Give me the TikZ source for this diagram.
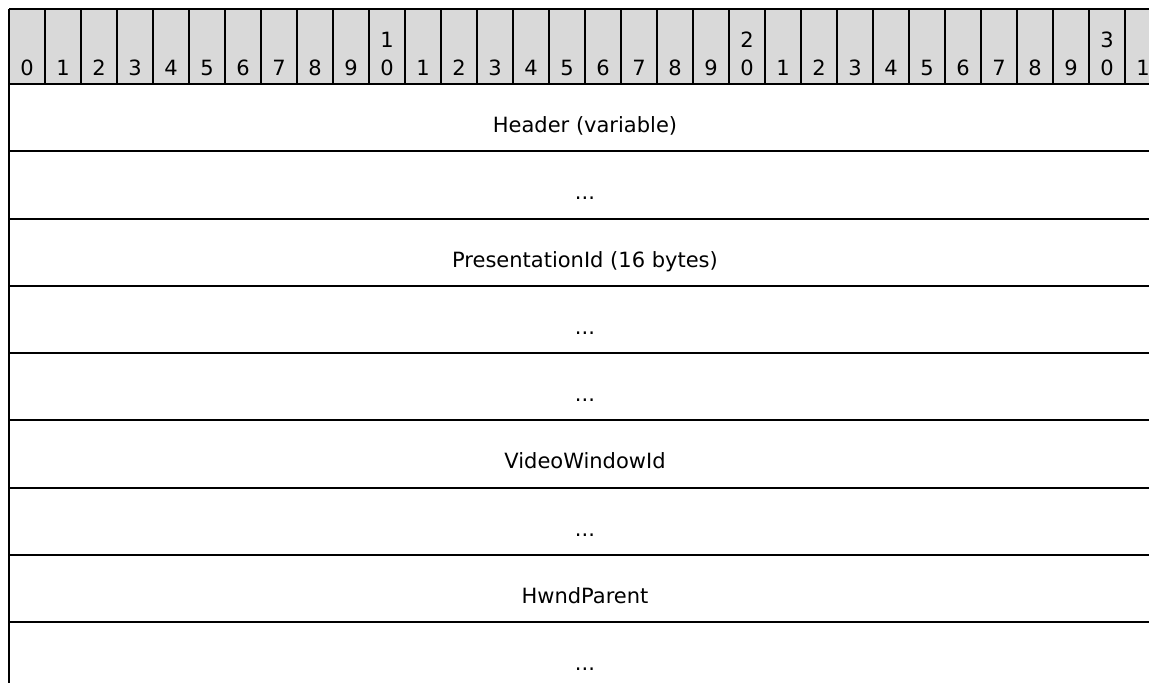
\documentclass[tikz,border=0pt]{standalone}
\usepackage{fontspec}
\setmainfont{DejaVu Sans}
\usetikzlibrary{positioning}
\definecolor{headgray}{RGB}{217,217,217}
\newcommand\more{...}

\begin{document}
\begin{tikzpicture}[x=1pt,y=-1pt,
  rowtext/.style={anchor=base,inner sep=0pt,font=\fontsize{21}{25}\selectfont},
  bitnum/.style={anchor=base,inner sep=0pt,font=\fontsize{21}{25}\selectfont},
  rule/.style={line width=2pt}]

%---------------------------------------
% Layout
%---------------------------------------
\def\Left{9}     % left edge of the table
\def\Cell{36}    % width of one bit
\def\Top{9}      % top of the header
\def\Head{84}    % bottom of the header
\def\Row{67.25}  % height of one row
\def\Mid{585}    % centre of the table

\useasboundingbox (0,0) rectangle (1149,683);
\clip (0,0) rectangle (1149,683);

%====================================================
% Header: bit numbers
%====================================================
\fill[headgray] (\Left,\Top) rectangle (\Left+32*\Cell,\Head);

\foreach \i in {0,...,31} {
  \pgfmathtruncatemacro\tens{\i/10}
  \pgfmathtruncatemacro\ones{mod(\i,10)}
  \node[bitnum] (b\i) at (\Left+\i*\Cell+0.5*\Cell,75.5) {\ones};
  % tens digit only on 10, 20, 30
  \ifnum\ones=0 \ifnum\tens>0
    \node[bitnum] (t\i) at (\Left+\i*\Cell+0.5*\Cell,47) {\tens};
  \fi\fi
}

% cell borders in the header
\foreach \i in {1,...,32}
  \draw[rule] (\Left+\i*\Cell,\Top) -- (\Left+\i*\Cell,\Head);

\draw[rule] (\Left,\Top) -- (\Left+32*\Cell,\Top);
\draw[rule] (\Left,\Head) -- (\Left+32*\Cell,\Head);
\draw[rule] (\Left,\Top) -- (\Left,683);

%====================================================
% Fields
%====================================================
\foreach \txt [count=\k from 0] in
  {Header (variable), \more, PresentationId (16 bytes), \more, \more,
   VideoWindowId, \more, HwndParent, \more} {
  \node[rowtext] (r\k) at (\Mid,\Head+\k*\Row+48.5) {\txt};
}

% row lines
\foreach \k in {1,...,8}
  \draw[rule] (\Left,\Head+\k*\Row) -- (\Left+32*\Cell,\Head+\k*\Row);

\end{tikzpicture}
\end{document}
